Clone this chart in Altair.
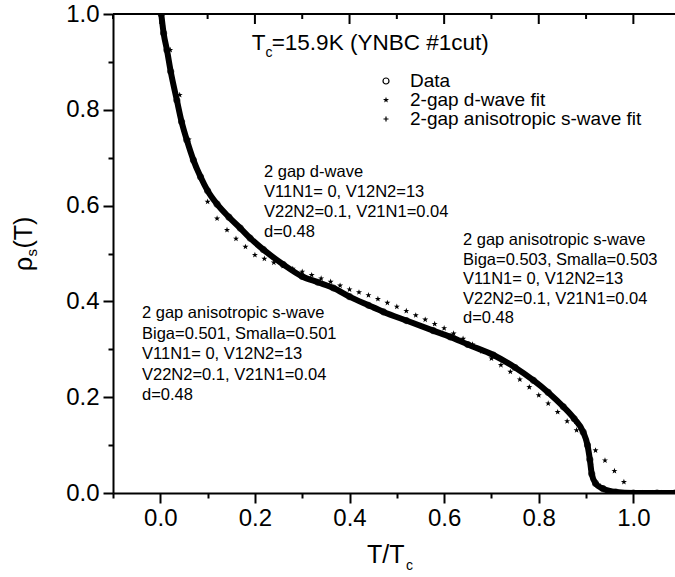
import altair as alt
import pandas as pd

# ---------------- data ----------------
data_T = [0.002, 0.007, 0.014, 0.022, 0.035, 0.045, 0.056, 0.070, 0.085, 0.100,
          0.120, 0.145, 0.169, 0.190, 0.218, 0.260, 0.300, 0.333, 0.366, 0.400,
          0.440, 0.472, 0.520, 0.577, 0.613, 0.650, 0.704, 0.750, 0.789, 0.820,
          0.852, 0.875, 0.894, 0.903, 0.908, 0.912, 0.920, 0.936, 0.963, 1.000,
          1.050, 1.088]
data_rho = [1.000, 0.960, 0.925, 0.880, 0.820, 0.775, 0.737, 0.695, 0.660, 0.631,
            0.603, 0.576, 0.553, 0.532, 0.508, 0.477, 0.452, 0.440, 0.428, 0.410,
            0.392, 0.378, 0.360, 0.339, 0.326, 0.310, 0.288, 0.262, 0.235, 0.210,
            0.180, 0.155, 0.127, 0.100, 0.070, 0.040, 0.020, 0.009, 0.002, 0.000,
            0.000, 0.000]

dw_T = [0.000, 0.021, 0.041, 0.060, 0.081, 0.100, 0.120, 0.141, 0.160, 0.180,
        0.200, 0.220, 0.240, 0.260, 0.280, 0.300, 0.320, 0.340, 0.360, 0.380,
        0.400, 0.420, 0.440, 0.460, 0.480, 0.500, 0.520, 0.540, 0.560, 0.580,
        0.600, 0.620, 0.640, 0.660, 0.680, 0.700, 0.720, 0.740, 0.760, 0.780,
        0.800, 0.820, 0.840, 0.860, 0.880, 0.900, 0.920, 0.940, 0.960, 0.980,
        1.000, 1.020, 1.040, 1.060, 1.080]
dw_rho = [1.000, 0.925, 0.831, 0.738, 0.667, 0.608, 0.573, 0.549, 0.531, 0.514,
          0.497, 0.489, 0.481, 0.474, 0.468, 0.462, 0.455, 0.448, 0.441, 0.433,
          0.425, 0.419, 0.413, 0.405, 0.397, 0.389, 0.380, 0.371, 0.362, 0.353,
          0.344, 0.333, 0.322, 0.310, 0.296, 0.281, 0.267, 0.253, 0.237, 0.221,
          0.204, 0.187, 0.169, 0.150, 0.131, 0.110, 0.089, 0.068, 0.046, 0.023,
          0.000, 0.000, 0.000, 0.000, 0.000]

sw_T = [0.005, 0.015, 0.030, 0.050, 0.075, 0.100, 0.130, 0.160, 0.200, 0.250,
        0.300, 0.350, 0.400, 0.450, 0.500, 0.550, 0.600, 0.650, 0.700, 0.750,
        0.800, 0.850, 0.880, 0.900, 0.910, 0.930, 0.960, 1.000, 1.040, 1.080]
sw_rho = [0.975, 0.920, 0.840, 0.756, 0.680, 0.630, 0.592, 0.562, 0.523, 0.483,
          0.452, 0.434, 0.410, 0.386, 0.367, 0.348, 0.331, 0.311, 0.291, 0.262,
          0.228, 0.183, 0.145, 0.110, 0.060, 0.015, 0.002, 0.000, 0.000, 0.000]

x_ticks = [-0.1, 0.0, 0.1, 0.2, 0.3, 0.4, 0.5, 0.6, 0.7, 0.8, 0.9, 1.0]
y_ticks = [0.0, 0.1, 0.2, 0.3, 0.4, 0.5, 0.6, 0.7, 0.8, 0.9, 1.0]
x_domain = [-0.1, 1.088]
y_domain = [0.0, 1.0]

legend_labels = ["Data", "2-gap d-wave fit", "2-gap anisotropic s-wave fit"]
note_dwave = ["2 gap d-wave", "V11N1= 0, V12N2=13", "V22N2=0.1, V21N1=0.04", "d=0.48"]
note_s503 = ["2 gap anisotropic s-wave", "Biga=0.503, Smalla=0.503", "V11N1= 0, V12N2=13",
             "V22N2=0.1, V21N1=0.04", "d=0.48"]
note_s501 = ["2 gap anisotropic s-wave", "Biga=0.501, Smalla=0.501", "V11N1= 0, V12N2=13",
             "V22N2=0.1, V21N1=0.04", "d=0.48"]

# ---------------- layout ----------------
W, H = 562, 479
FONT = "Liberation Sans"
STAR = ("M0,-1L0.235,-0.324L0.951,-0.309L0.380,0.124L0.588,0.809L0,0.4"
        "L-0.588,0.809L-0.380,0.124L-0.951,-0.309L-0.235,-0.324Z")
PLUS = "M-1,0L1,0M0,-1L0,1"

xs = alt.Scale(domain=x_domain, nice=False, zero=False)
ys = alt.Scale(domain=y_domain, nice=False, zero=False)

major_test = "abs(datum.value*5 - round(datum.value*5)) < 0.001"
lab_expr = f"{major_test} ? format(datum.value, '.1f') : ''"

x_axis = alt.Axis(values=x_ticks, labelExpr=lab_expr, title=None, grid=False,
                  tickSize={"condition": {"test": major_test, "value": 10}, "value": 5},
                  tickWidth=2, domainWidth=2, domainColor="black", tickColor="black",
                  labelFont=FONT, labelFontSize=24, labelColor="black", labelPadding=3,
                  labelFlush=False, labelOverlap=False)
y_axis = alt.Axis(values=y_ticks, labelExpr=lab_expr, title=None, grid=False,
                  tickSize={"condition": {"test": major_test, "value": 10}, "value": 5},
                  tickWidth=2, domainWidth=2, domainColor="black", tickColor="black",
                  labelFont=FONT, labelFontSize=24, labelColor="black", labelPadding=4,
                  labelFlush=False, labelOverlap=False)

df_data = pd.DataFrame({"T": data_T, "rho": data_rho})
df_dw = pd.DataFrame({"T": dw_T, "rho": dw_rho})
df_sw = pd.DataFrame({"T": sw_T, "rho": sw_rho})

band = alt.Chart(df_data).mark_line(color="black", strokeWidth=6, clip=True,
                                    interpolate="monotone").encode(
    x=alt.X("T:Q", scale=xs, axis=x_axis),
    y=alt.Y("rho:Q", scale=ys, axis=y_axis),
    order="T:Q")
circles = alt.Chart(df_data).mark_point(shape="circle", filled=False, color="black",
                                        size=36, strokeWidth=1.2, clip=True).encode(
    x=alt.X("T:Q", scale=xs), y=alt.Y("rho:Q", scale=ys))
plus = alt.Chart(df_sw).mark_point(shape=PLUS, color="black", size=25, strokeWidth=1,
                                   clip=True).encode(
    x=alt.X("T:Q", scale=xs), y=alt.Y("rho:Q", scale=ys))
stars = alt.Chart(df_dw).mark_point(shape=STAR, filled=True, color="black", size=40,
                                    opacity=1, clip=True).encode(
    x=alt.X("T:Q", scale=xs), y=alt.Y("rho:Q", scale=ys))

# top frame line with inward ticks
top_line = alt.Chart(pd.DataFrame({"a": [0]})).mark_rule(color="black", strokeWidth=2).encode(
    x=alt.value(0), x2=alt.value(W), y=alt.value(0))
df_top = pd.DataFrame({"v": x_ticks})
df_top["major"] = [abs(v * 5 - round(v * 5)) < 0.001 for v in x_ticks]
top_major = alt.Chart(df_top[df_top["major"]]).mark_rule(color="black", strokeWidth=2).encode(
    x=alt.X("v:Q", scale=xs), y=alt.value(0), y2=alt.value(10))
top_minor = alt.Chart(df_top[~df_top["major"]]).mark_rule(color="black", strokeWidth=2).encode(
    x=alt.X("v:Q", scale=xs), y=alt.value(0), y2=alt.value(5))

# legend
leg_y = [67.0, 86.0, 105.0]
leg_sym = []
for shp, filled, sz, yy in [("circle", False, 36, leg_y[0]), (STAR, True, 40, leg_y[1]),
                            (PLUS, False, 25, leg_y[2])]:
    leg_sym.append(alt.Chart(pd.DataFrame({"a": [0]})).mark_point(
        shape=shp, filled=filled, color="black", size=sz, strokeWidth=1.2, opacity=1).encode(
        x=alt.value(273), y=alt.value(yy)))
leg_text = alt.Chart(pd.DataFrame({"t": legend_labels, "y": leg_y})).mark_text(
    align="left", baseline="middle", font=FONT, fontSize=19, color="black").encode(
    x=alt.value(297), y=alt.Y("y:Q", scale=None), text="t:N")


def block(lines, x0, y0, step, size=16.5):
    d = pd.DataFrame({"t": lines, "y": [y0 + i * step for i in range(len(lines))]})
    return alt.Chart(d).mark_text(align="left", baseline="middle", font=FONT,
                                  fontSize=size, color="black").encode(
        x=alt.value(x0), y=alt.Y("y:Q", scale=None), text="t:N")


notes = [block(note_dwave, 151, 157.7, 20), block(note_s503, 350, 226.3, 19.5),
         block(note_s501, 29, 299.3, 20.4)]


def txt(s, x, y, size, align="left", baseline="alphabetic", angle=0):
    return alt.Chart(pd.DataFrame({"t": [s]})).mark_text(
        align=align, baseline=baseline, font=FONT, fontSize=size, color="black",
        angle=angle).encode(x=alt.value(x), y=alt.value(y), text="t:N")


tc = [txt("T", 138.7, 36, 22.5), txt("c", 152.6, 43, 14), txt("=15.9K (YNBC #1cut)", 158.7, 36, 22.5)]
xtitle = [txt("T/T", 254, 549, 25), txt("c", 293, 556, 14)]
ytitle = [txt("\u03c1", -81, 257, 25, angle=270), txt("s", -76, 242.5, 15, angle=270),
          txt("(T)", -81, 234.5, 25, angle=270)]

chart = alt.layer(band, circles, plus, stars, top_line, top_major, top_minor,
                  *leg_sym, leg_text, *notes, *tc, *xtitle, *ytitle).properties(
    width=W, height=H,
    autosize=alt.AutoSizeParams(type="none"),
    padding={"left": 113, "top": 14, "right": 0, "bottom": 84},
    background="white",
).configure_view(stroke=None)

chart.save("out.html", embed_options={"renderer": "svg", "actions": False})
